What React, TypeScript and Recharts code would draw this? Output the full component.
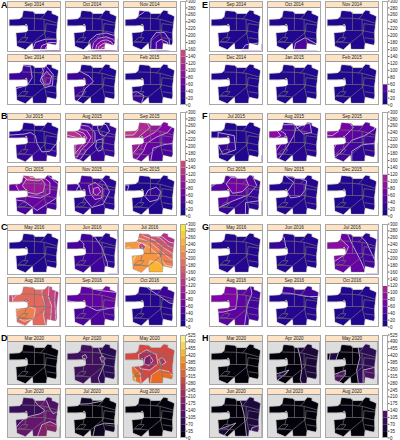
import React from 'react';
import { ComposedChart, BarChart, Bar, Line, Scatter, XAxis, YAxis } from 'recharts';

type Band = [number, number[]];
type Panel = { label: string; base: number; bands: Band[] };

const landOutline = [4,37, 36,35, 44,28, 48,9, 78,11, 82,18, 113,18, 123,7, 136,10, 136,18, 146,22, 156,27, 153,52, 150,80, 151,110, 148,118, 121,112, 119,131, 78,131, 76,112, 54,133, 28,122, 25,80, 56,77, 62,72, 60,55, 33,57, 4,57, 4,37];
const districtLines = [
  [44,32, 82,33, 112,36, 152,48],
  [82,14, 82,72],
  [116,18, 100,36],
  [112,36, 112,72],
  [62,72, 112,72, 150,80],
  [118,50, 152,55],
  [118,50, 116,78],
  [116,78, 76,112],
  [30,110, 45,95, 62,95, 52,108, 30,110],
  [56,78, 52,95],
  [112,72, 120,112],
  [120,95, 150,100],
  [76,112, 35,108],
];
const siteMarker = [{ x: 56, y: 54 }];

const figureA: Panel[] = [
  { label: 'Sep 2014', base: 15, bands: [[35,[70,150,85,110,115,100,145,100,175,105,175,150]],[60,[95,150,105,120,130,110,175,112,175,150]],[85,[110,150,118,125,135,118,175,120,175,150]],[110,[125,150,130,130,145,125,175,128,175,150]]] },
  { label: 'Oct 2014', base: 15, bands: [[40,[65,150,72,105,95,85,125,80,150,88,172,110,175,150]],[60,[78,150,85,112,100,97,125,92,145,100,162,120,165,150]],[80,[88,150,95,118,108,106,125,102,140,108,152,125,155,150]],[100,[96,150,102,123,115,114,125,112,135,116,145,130,146,150]],[120,[104,150,110,128,125,122,138,132,138,150]],[145,[112,150,116,134,125,130,132,138,132,150]]] },
  { label: 'Nov 2014', base: 15, bands: [[35,[82,145,84,100,100,78,125,78,140,100,142,145]],[45,[100,145,100,110,115,100,135,110,135,145]],[35,[40,-10,45,25,60,15,75,-5]]] },
  { label: 'Dec 2014', base: 15, bands: [[35,[-20,10,40,10,70,15,75,50,60,75,25,85,-20,85]],[45,[95,-10,120,15,140,40,138,75,115,82,100,60,110,30]],[60,[105,50,120,30,135,45,130,70,112,72]]] },
  { label: 'Jan 2015', base: 15, bands: [[35,[-20,30,40,28,72,45,85,62,60,85,48,110,30,130,15,130,-20,70]]] },
  { label: 'Feb 2015', base: 15, bands: [[35,[10,100,40,95,62,108,50,145,10,145]]] },
];
const figureB: Panel[] = [
  { label: 'Jul 2015', base: 18, bands: [[30,[-20,50,50,45,70,40,85,50,90,75,105,102,130,100,150,75,175,60,175,150,-20,150]]] },
  { label: 'Aug 2015', base: 32, bands: [[60,[-20,15,40,15,70,20,90,40,90,70,65,95,45,125,20,135,-20,100]],[80,[-20,25,35,25,65,35,78,55,68,75,48,95,35,118,18,118,22,85,40,70,-20,55]],[100,[-20,32,30,32,55,42,65,58,55,75,38,95,28,108,28,85,42,65,-20,50]],[130,[0,35,25,36,45,48,50,60,40,75,30,70,30,55,0,48]],[22,[100,10,125,15,135,35,120,52,105,45,98,25]],[22,[95,65,115,60,112,95,100,100,92,85]]] },
  { label: 'Sep 2015', base: 60, bands: [[42,[90,90,120,80,175,70,175,150,80,150]],[80,[-20,-25,150,-25,155,15,135,40,100,55,70,75,60,100,40,125,20,130,-20,100]],[100,[-20,-25,110,-25,115,20,95,40,60,60,42,90,25,110,-20,85]],[120,[-20,5,70,5,80,25,60,42,35,65,-20,70]],[140,[-20,15,30,15,45,30,30,48,-20,50]]] },
  { label: 'Oct 2015', base: 42, bands: [[60,[-20,50,40,20,70,-5,120,5,155,35,165,70,120,100,90,120,50,90,-20,80]],[80,[25,40,50,10,100,5,130,30,130,65,100,80,60,75,35,60]],[100,[45,40,60,15,100,15,115,35,110,60,90,68,60,62]],[130,[40,5,60,-5,110,-5,115,15,95,25,60,22]],[160,[55,-5,100,-5,100,12,70,15]]] },
  { label: 'Nov 2015', base: 22, bands: [[42,[50,5,90,5,120,30,135,60,115,100,80,110,60,85,45,50,35,25]],[60,[70,40,90,30,115,50,110,80,90,85,75,65]],[80,[85,50,100,45,108,60,95,72,85,65]],[40,[-20,20,20,25,40,40,30,60,-20,55]]] },
  { label: 'Dec 2015', base: 15, bands: [[30,[65,75,75,55,100,45,115,60,105,85,80,92]],[25,[-20,35,15,40,10,60,-20,60]]] },
];
const figureC: Panel[] = [
  { label: 'May 2016', base: 15, bands: [] },
  { label: 'Jun 2016', base: 35, bands: [[22,[72,-20,90,20,110,50,128,100,130,150,175,150,175,-20]],[42,[-20,20,40,25,55,40,55,70,-20,70]],[15,[140,-20,150,15,175,30,175,-20]]] },
  { label: 'Jul 2016', base: 225, bands: [[205,[-20,10,30,30,70,45,105,75,130,110,180,120,180,-20,-20,-20]],[185,[20,-20,40,20,80,35,115,65,145,90,180,100,180,-20]],[165,[40,-20,60,15,95,30,125,55,155,75,180,85,180,-20]],[145,[70,-20,85,10,115,25,140,50,180,65,180,-20]],[125,[100,-20,115,15,140,35,180,45,180,-20]],[105,[120,-20,135,10,160,25,180,30,180,-20]],[250,[70,150,80,95,105,100,125,120,125,150]],[250,[-20,75,15,50,40,75,20,110,-20,120]],[150,[45,45,55,38,68,50,60,65,48,62]]] },
  { label: 'Aug 2016', base: 185, bands: [[165,[110,-20,105,30,115,70,110,100,120,150,180,150,180,-20]],[145,[130,-20,125,40,135,70,130,150,180,150,180,-20]],[125,[150,-20,145,50,150,150,180,150,180,-20]],[165,[-20,-20,60,-20,30,30,10,55,-20,60]],[150,[-20,25,12,30,15,60,-20,60]],[205,[25,85,60,70,85,80,80,110,50,120,25,105]]] },
  { label: 'Sep 2016', base: 45, bands: [[58,[-20,50,45,60,95,85,180,70,180,-20,-20,-20]],[75,[40,-20,50,5,100,20,180,30,180,-20]]] },
  { label: 'Oct 2016', base: 18, bands: [[35,[60,-20,75,15,105,35,140,60,180,70,180,-20]]] },
];
const figureD: Panel[] = [
  { label: 'Mar 2020', base: 6, bands: [] },
  { label: 'Apr 2020', base: 105, bands: [[75,[85,-20,150,-20,180,20,180,150,110,150,100,115,120,70,110,40]],[75,[-20,-20,45,-20,45,25,-20,30]],[130,[50,45,60,40,65,50,55,60]],[130,[105,50,115,45,122,55,112,65]]] },
  { label: 'May 2020', base: 300, bands: [[270,[125,-20,150,20,180,30,180,-20]],[240,[45,40,70,25,100,40,105,70,80,90,50,85]],[180,[65,50,80,42,90,60,78,75,62,70]],[240,[108,55,120,50,130,65,115,75]],[350,[-20,70,20,70,50,100,55,150,-20,150]],[420,[-20,90,20,90,35,115,40,150,-20,150]],[490,[-20,105,15,105,25,125,25,150,-20,150]],[350,[80,150,85,105,110,88,140,95,160,120,160,150]]] },
  { label: 'Jun 2020', base: 150, bands: [[95,[-20,-20,60,-20,90,30,115,50,100,60,60,70,40,85,20,110,0,130,-20,130]],[190,[85,150,105,95,130,85,160,100,175,150]],[120,[90,-20,120,20,130,45,140,60,180,40,180,-20]]] },
  { label: 'Jul 2020', base: 6, bands: [[35,[-20,10,30,30,70,28,110,20,120,-20,-20,-20]],[25,[80,150,90,100,120,90,180,95,180,150]]] },
  { label: 'Aug 2020', base: 6, bands: [] },
];
const figureE: Panel[] = [
  { label: 'Sep 2014', base: 15, bands: [[35,[95,140,110,118,150,112,175,115,175,140]]] },
  { label: 'Oct 2014', base: 15, bands: [[45,[78,150,85,112,115,95,150,115,155,150]]] },
  { label: 'Nov 2014', base: 15, bands: [] },
  { label: 'Dec 2014', base: 15, bands: [] },
  { label: 'Jan 2015', base: 15, bands: [] },
  { label: 'Feb 2015', base: 15, bands: [] },
];
const figureF: Panel[] = [
  { label: 'Jul 2015', base: 15, bands: [[30,[25,40,75,50,80,95,40,110,25,80]],[25,[130,135,175,100,175,135]]] },
  { label: 'Aug 2015', base: 20, bands: [[45,[-20,-20,50,15,90,15,80,50,60,85,30,130,10,130,-20,80]],[65,[-20,25,25,25,55,45,45,70,25,100,15,110,-20,80]],[85,[0,30,25,30,40,50,20,60,-5,55]],[45,[90,25,110,15,130,10,135,40,110,45]]] },
  { label: 'Sep 2015', base: 40, bands: [[25,[80,100,110,80,180,70,180,150,80,150]],[55,[-20,-10,155,-10,150,30,120,50,80,65,40,110,20,125,-20,100]],[70,[-20,10,70,5,85,25,60,50,30,80,20,100,-20,75]],[90,[-20,15,30,20,40,35,20,50,-20,50]]] },
  { label: 'Oct 2015', base: 30, bands: [[20,[110,95,180,85,180,150,110,150]],[50,[-20,60,40,20,60,-5,130,5,145,40,120,70,70,90,30,110,10,130,-20,100]],[70,[50,35,65,15,110,15,120,40,100,60,70,65]],[85,[50,-5,110,-5,115,10,60,12]]] },
  { label: 'Nov 2015', base: 18, bands: [[35,[55,10,90,15,120,25,115,55,100,75,70,80,60,60,80,30]]] },
  { label: 'Dec 2015', base: 15, bands: [] },
];
const figureG: Panel[] = [
  { label: 'May 2016', base: 18, bands: [] },
  { label: 'Jun 2016', base: 18, bands: [[32,[-20,15,50,20,55,50,45,65,25,75,-20,85]]] },
  { label: 'Jul 2016', base: 60, bands: [[40,[55,-20,80,40,110,100,130,150,180,150,180,-20]],[25,[105,15,125,35,150,90,180,100,180,-20]],[85,[-20,20,40,20,70,50,60,75,30,95,-20,110]]] },
  { label: 'Aug 2016', base: 55, bands: [[40,[120,-20,130,30,115,70,105,150,180,150,180,-20]],[75,[40,-20,80,-20,85,40,80,80,40,90,-20,90,-20,40]]] },
  { label: 'Sep 2016', base: 18, bands: [[38,[-20,-20,180,-20,180,40,120,40,70,30,-20,25]]] },
  { label: 'Oct 2016', base: 15, bands: [] },
];
const figureH: Panel[] = [
  { label: 'Mar 2020', base: 6, bands: [] },
  { label: 'Apr 2020', base: 8, bands: [[50,[70,-20,90,10,100,50,105,85,100,120,110,150,180,150,180,-20]],[65,[15,105,50,95,65,90,45,110,20,130]]] },
  { label: 'May 2020', base: 8, bands: [[80,[75,-20,100,20,105,50,95,90,100,130,120,150,180,150,180,-20]],[120,[115,90,155,80,175,150,115,150]],[120,[10,110,60,90,60,105,30,140]],[60,[15,20,40,30,30,60,10,60]]] },
  { label: 'Jun 2020', base: 8, bands: [[55,[50,-20,95,20,105,60,110,100,115,150,180,150,180,-20]],[55,[15,115,80,90,60,110,30,145]],[100,[130,105,160,95,160,135,125,135]]] },
  { label: 'Jul 2020', base: 6, bands: [] },
  { label: 'Aug 2020', base: 6, bands: [] },
];

const ticks300 = [0,20,40,60,80,100,120,140,160,180,200,220,240,260,280,300];
const ticks525 = [0,35,70,105,140,175,210,245,280,315,350,385,420,455,490,525];
const plasmaStops = ['#0d0887','#3f049c','#7e03a8','#a82296','#cc4778','#e56b5d','#f89540','#fdc328','#f0f921'];
const infernoStops = ['#000004','#280b54','#65156e','#9f2a63','#d44842','#f57d15','#fac228','#fcffa4'];

const FONT = '"Liberation Sans", Arial, sans-serif';
const columnsLeft = [7.3, 65, 122.7];
const columnsRight = [209.3, 267.3, 325];
const PANEL_W = 54;

function hexMix(a: string, b: string, t: number) {
  const ch = (h: string, i: number) => parseInt(h.slice(i, i + 2), 16);
  const out = [1, 3, 5].map((i) => Math.round(ch(a, i) + (ch(b, i) - ch(a, i)) * t));
  return `rgb(${out.join(',')})`;
}
function colorOf(stops: string[], max: number, v: number) {
  const p = Math.min(Math.max(v / max, 0), 0.9999) * (stops.length - 1);
  const i = Math.floor(p);
  return hexMix(stops[i], stops[i + 1], p - i);
}
const toPoints = (flat: number[]) => {
  const out: { x: number; y: number }[] = [];
  for (let i = 0; i < flat.length; i += 2) out.push({ x: flat[i], y: flat[i + 1] });
  return out;
};
const frame = [-60,-60, 220,-60, 220,195, -60,195, -60,-60];

function MapPanel({ panel, left, top, height, stops, max, outside }: { panel: Panel; left: number; top: number; height: number; stops: string[]; max: number; outside: string }) {
  const color = (v: number) => colorOf(stops, max, v);
  const lineBase = { dataKey: 'y', dot: false, activeDot: false, isAnimationActive: false, legendType: 'none' as const };
  return (
    <div style={{ position: 'absolute', left, top, width: PANEL_W, height, boxSizing: 'border-box', border: '1.2px solid #a8a8a8', background: outside, overflow: 'hidden' }}>
      <div style={{ height: 5.4, lineHeight: '5.4px', background: '#fde3c4', borderBottom: '0.6px solid #999', textAlign: 'center', fontFamily: FONT, fontSize: 4.6, color: '#222', position: 'relative', zIndex: 2 }}>{panel.label}</div>
      <ComposedChart width={PANEL_W - 2.4} height={height - 8.4} margin={{ top: 0, right: 0, bottom: 0, left: 0 }}>
        <XAxis hide type="number" dataKey="x" domain={[0, 160]} allowDataOverflow />
        <YAxis hide type="number" dataKey="y" domain={[0, 135]} reversed allowDataOverflow />
        <Line {...lineBase} key="land" data={toPoints(landOutline)} stroke="none" style={{ fill: color(panel.base) }} />
        {panel.bands.map(([v, pts], i) => (
          <Line {...lineBase} key={`band${i}`} type="linearClosed" data={toPoints(pts)} stroke="#e6dff0" strokeWidth={0.7} strokeLinejoin="round" style={{ fill: color(v) }} />
        ))}
        <Line {...lineBase} key="mask" data={toPoints([...frame, ...landOutline, -60, -60])} stroke="none" style={{ fill: outside, fillRule: 'evenodd' }} />
        {districtLines.map((d, i) => (
          <Line {...lineBase} key={`d${i}`} data={toPoints(d)} stroke="#727272" strokeWidth={0.7} />
        ))}
        <Line {...lineBase} key="edge" data={toPoints(landOutline)} stroke="#777" strokeWidth={0.4} />
        <Scatter data={siteMarker} dataKey="y" isAnimationActive={false} shape={(p: any) => <circle cx={p.cx} cy={p.cy} r={1.1} fill="#fff" stroke="#111" strokeWidth={0.5} />} />
      </ComposedChart>
    </div>
  );
}

function ColorBar({ left, top, height, ticks, limit, stops, max }: { left: number; top: number; height: number; ticks: number[]; limit: number; stops: string[]; max: number }) {
  const step = ticks[1] - ticks[0];
  const row: Record<string, any> = { name: 'scale' };
  const levels = ticks.slice(1);
  levels.forEach((t) => { row[`l${t}`] = step; });
  const pad = 4;
  return (
    <div style={{ position: 'absolute', left, top: top - pad }}>
      <BarChart width={22} height={height + 2 * pad} data={[row]} margin={{ top: pad, right: 0, bottom: pad, left: 0 }} barCategoryGap={0} barGap={0}>
        <XAxis hide dataKey="name" />
        <YAxis orientation="right" width={16} type="number" domain={[0, max]} ticks={ticks} interval={0} axisLine={false} tickSize={1.5} tickMargin={0.5} tick={{ fontSize: 4.5, fontFamily: FONT, fill: '#222' }} stroke="#555" />
        {levels.map((t) => (
          <Bar key={t} dataKey={`l${t}`} stackId="a" isAnimationActive={false} fill={t <= limit ? colorOf(stops, max, t - step / 2) : '#ffffff'} />
        ))}
      </BarChart>
      <div style={{ position: 'absolute', left: 0, top: pad, width: 6, height, boxSizing: 'border-box', border: '1px solid #a8a8a8' }} />
    </div>
  );
}

function Figure({ letter, panels, columns, barLeft, rowTop, rowBottom, ticks, limit, stops, max, outside, letterX, letterY, barTop, barHeight }: any) {
  return (
    <>
      <div style={{ position: 'absolute', left: letterX, top: letterY, fontFamily: FONT, fontWeight: 700, fontSize: 9, lineHeight: '9px', color: '#000', zIndex: 3 }}>{letter}</div>
      {panels.map((p: Panel, i: number) => (
        <MapPanel key={i} panel={p} left={columns[i % 3]} top={i < 3 ? rowTop : rowBottom} height={50.6} stops={stops} max={max} outside={outside} />
      ))}
      <ColorBar left={barLeft} top={barTop} height={barHeight} ticks={ticks} limit={limit} stops={stops} max={max} />
    </>
  );
}

export default function App() {
  const shared = { columns: columnsLeft, barLeft: 179.5, letterX: 1 };
  const right = { columns: columnsRight, barLeft: 382, letterX: 202 };
  return (
    <div style={{ position: 'absolute', left: 0, top: 0, width: 400, height: 440, background: '#fff', overflow: 'hidden' }}>
      <Figure {...shared} letter="A" panels={figureA} rowTop={1} rowBottom={54.3} ticks={ticks300} limit={160} stops={plasmaStops} max={300} outside="#ffffff" letterY={1} barTop={1} barHeight={104} />
      <Figure {...shared} letter="B" panels={figureB} rowTop={112.5} rowBottom={165.5} ticks={ticks300} limit={160} stops={plasmaStops} max={300} outside="#ffffff" letterY={112} barTop={112} barHeight={104} />
      <Figure {...shared} letter="C" panels={figureC} rowTop={224} rowBottom={276.5} ticks={ticks300} limit={300} stops={plasmaStops} max={300} outside="#ffffff" letterY={223} barTop={224} barHeight={103} />
      <Figure {...shared} letter="D" panels={figureD} rowTop={334.7} rowBottom={387.5} ticks={ticks525} limit={525} stops={infernoStops} max={525} outside="#dddddd" letterY={334} barTop={335} barHeight={103} />
      <Figure {...right} letter="E" panels={figureE} rowTop={1} rowBottom={54.3} ticks={ticks300} limit={60} stops={plasmaStops} max={300} outside="#ffffff" letterY={1} barTop={1} barHeight={104} />
      <Figure {...right} letter="F" panels={figureF} rowTop={112.5} rowBottom={165.5} ticks={ticks300} limit={120} stops={plasmaStops} max={300} outside="#ffffff" letterY={112} barTop={112} barHeight={104} />
      <Figure {...right} letter="G" panels={figureG} rowTop={224} rowBottom={276.5} ticks={ticks300} limit={120} stops={plasmaStops} max={300} outside="#ffffff" letterY={223} barTop={224} barHeight={103} />
      <Figure {...right} letter="H" panels={figureH} rowTop={334.7} rowBottom={387.5} ticks={ticks525} limit={140} stops={infernoStops} max={525} outside="#dddddd" letterY={334} barTop={335} barHeight={103} />
    </div>
  );
}
